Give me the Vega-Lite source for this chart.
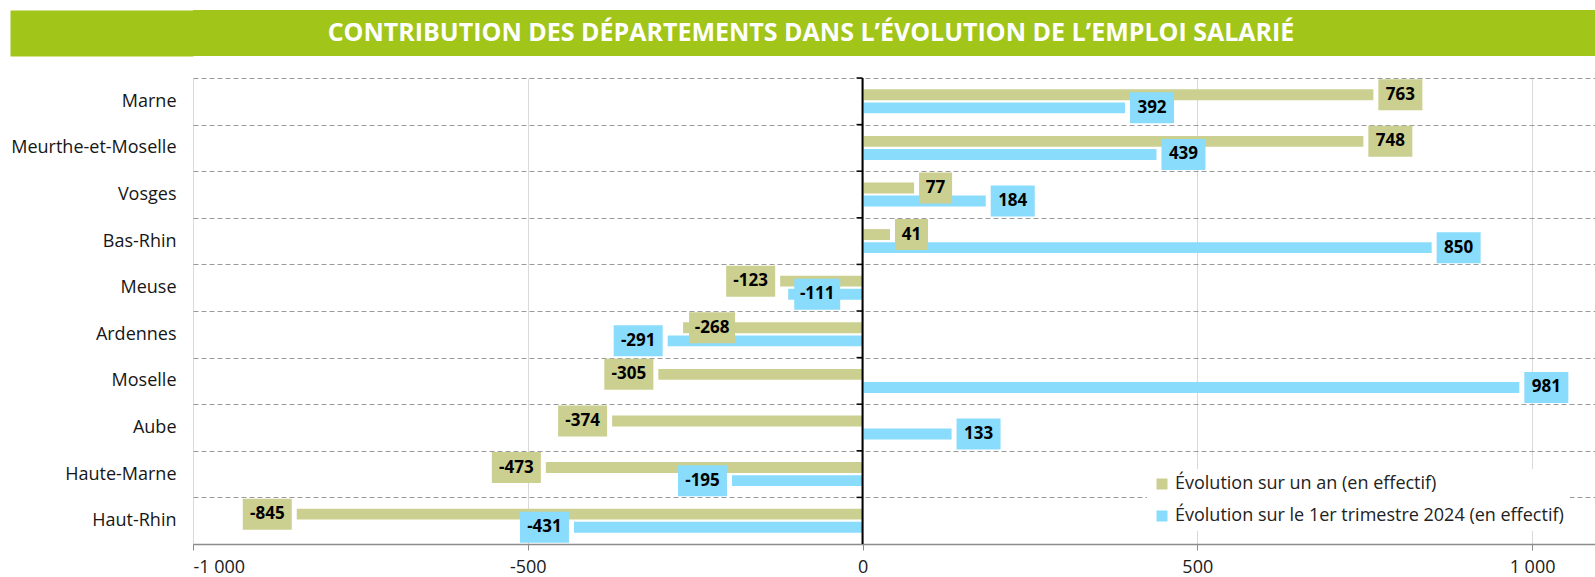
{
  "$schema": "https://vega.github.io/schema/vega-lite/v6.json",
  "padding": {"left": 10, "top": 10, "right": 0, "bottom": 0},
  "background": "white",
  "columns": 1,
  "align": "none",
  "spacing": 13,
  "config": {"view": {"stroke": null}, "font": "Open Sans"},
  "datasets": {
    "emploi": [
      {"dept": "Marne", "serie": "Évolution sur un an (en effectif)", "value": 763},
      {"dept": "Marne", "serie": "Évolution sur le 1er trimestre 2024 (en effectif)", "value": 392},
      {"dept": "Meurthe-et-Moselle", "serie": "Évolution sur un an (en effectif)", "value": 748},
      {"dept": "Meurthe-et-Moselle", "serie": "Évolution sur le 1er trimestre 2024 (en effectif)", "value": 439},
      {"dept": "Vosges", "serie": "Évolution sur un an (en effectif)", "value": 77},
      {"dept": "Vosges", "serie": "Évolution sur le 1er trimestre 2024 (en effectif)", "value": 184},
      {"dept": "Bas-Rhin", "serie": "Évolution sur un an (en effectif)", "value": 41},
      {"dept": "Bas-Rhin", "serie": "Évolution sur le 1er trimestre 2024 (en effectif)", "value": 850},
      {"dept": "Meuse", "serie": "Évolution sur un an (en effectif)", "value": -123},
      {"dept": "Meuse", "serie": "Évolution sur le 1er trimestre 2024 (en effectif)", "value": -111},
      {"dept": "Ardennes", "serie": "Évolution sur un an (en effectif)", "value": -268},
      {"dept": "Ardennes", "serie": "Évolution sur le 1er trimestre 2024 (en effectif)", "value": -291},
      {"dept": "Moselle", "serie": "Évolution sur un an (en effectif)", "value": -305},
      {"dept": "Moselle", "serie": "Évolution sur le 1er trimestre 2024 (en effectif)", "value": 981},
      {"dept": "Aube", "serie": "Évolution sur un an (en effectif)", "value": -374},
      {"dept": "Aube", "serie": "Évolution sur le 1er trimestre 2024 (en effectif)", "value": 133},
      {"dept": "Haute-Marne", "serie": "Évolution sur un an (en effectif)", "value": -473},
      {"dept": "Haute-Marne", "serie": "Évolution sur le 1er trimestre 2024 (en effectif)", "value": -195},
      {"dept": "Haut-Rhin", "serie": "Évolution sur un an (en effectif)", "value": -845},
      {"dept": "Haut-Rhin", "serie": "Évolution sur le 1er trimestre 2024 (en effectif)", "value": -431}
    ]
  },
  "concat": [
    {
      "width": 1402,
      "height": 46,
      "view": {"fill": "#a2c51a", "stroke": null},
      "data": {"values": [{"t": "CONTRIBUTION DES DÉPARTEMENTS DANS L’ÉVOLUTION DE L’EMPLOI SALARIÉ"}]},
      "mark": {"type": "text", "font": "Open Sans", "fontWeight": "bold", "fontSize": 25, "color": "white", "baseline": "middle", "align": "center", "dx": -83},
      "encoding": {
        "text": {"field": "t", "type": "nominal"},
        "y": {
          "field": "t", "type": "nominal",
          "axis": {"title": null, "labels": false, "ticks": false, "grid": false, "domain": true, "domainColor": "#a2c51a", "domainWidth": 183, "offset": 91.5}
        }
      }
    },
    {
      "width": 1402,
      "height": 466,
      "data": {"name": "emploi"},
      "layer": [
        {
          "mark": {"type": "bar"},
          "encoding": {
            "x": {
              "field": "value", "type": "quantitative",
              "scale": {"domain": [-1000, 1094], "nice": false, "zero": false},
              "axis": {
                "title": null, "values": [-1000, -500, 0, 500, 1000],
                "grid": true, "gridColor": "#d9d9d9", "gridWidth": 1,
                "domain": true, "domainColor": "#8c8c8c", "domainWidth": 1.5,
                "ticks": true, "tickColor": "#8c8c8c", "tickSize": 6, "tickWidth": 1,
                "labelPadding": 8, "labelFontSize": 18, "labelColor": "#1a1a1a", "labelFont": "Open Sans",
                "labelExpr": "(datum.value < 0 ? '-' : '') + replace(format(abs(datum.value), ','), ',', ' ')"
              }
            },
            "y": {
              "field": "dept", "type": "nominal",
              "sort": ["Marne", "Meurthe-et-Moselle", "Vosges", "Bas-Rhin", "Meuse", "Ardennes", "Moselle", "Aube", "Haute-Marne", "Haut-Rhin"],
              "scale": {"paddingInner": 0, "paddingOuter": 0},
              "axis": {
                "title": null, "ticks": false, "domain": false,
                "grid": true, "tickBand": "extent", "gridDash": [5, 3], "gridColor": "#9a9a9a", "gridWidth": 1,
                "labelPadding": 17, "labelFontSize": 18, "labelColor": "#161616", "labelFont": "Open Sans", "labelLimit": 0
              }
            },
            "yOffset": {
              "field": "serie", "type": "nominal",
              "sort": ["Évolution sur un an (en effectif)", "Évolution sur le 1er trimestre 2024 (en effectif)"],
              "scale": {"paddingInner": 0.17, "paddingOuter": 0.864}
            },
            "color": {
              "field": "serie", "type": "nominal",
              "sort": ["Évolution sur un an (en effectif)", "Évolution sur le 1er trimestre 2024 (en effectif)"],
              "scale": {"domain": ["Évolution sur un an (en effectif)", "Évolution sur le 1er trimestre 2024 (en effectif)"], "range": ["#cbcf8f", "#89dcfb"]},
              "legend": {
                "title": null, "orient": "none", "legendX": 954, "legendY": 459, "fillColor": "white", "padding": 6,
                "symbolType": "square", "symbolSize": 121, "symbolStrokeWidth": 0,
                "labelFontSize": 18, "labelFont": "Open Sans", "labelColor": "#222222", "rowPadding": 14, "labelLimit": 0
              }
            }
          }
        },
        {
          "data": {"values": [{}]},
          "mark": {"type": "rule", "color": "black", "strokeWidth": 2},
          "encoding": {"x": {"datum": 0}}
        },
        {
          "transform": [{"filter": "datum.serie === 'Évolution sur un an (en effectif)'"}],
          "mark": {"type": "rule", "color": "black", "strokeWidth": 1.5, "xOffset": -6},
          "encoding": {
            "x": {"datum": 0}, "x2": {"datum": 0},
            "y": {"field": "dept", "type": "nominal", "bandPosition": 0, "sort": ["Marne", "Meurthe-et-Moselle", "Vosges", "Bas-Rhin", "Meuse", "Ardennes", "Moselle", "Aube", "Haute-Marne", "Haut-Rhin"]}
          }
        },
        {
          "transform": [{"filter": "datum.value >= 100"}],
          "layer": [
            {
              "mark": {"type": "rect", "height": 31, "xOffset": 5, "x2Offset": 49},
              "encoding": {
                "x": {"field": "value", "type": "quantitative"}, "x2": {"field": "value"},
                "y": {"field": "dept", "type": "nominal", "sort": ["Marne", "Meurthe-et-Moselle", "Vosges", "Bas-Rhin", "Meuse", "Ardennes", "Moselle", "Aube", "Haute-Marne", "Haut-Rhin"]},
                "yOffset": {"field": "serie", "type": "nominal", "sort": ["Évolution sur un an (en effectif)", "Évolution sur le 1er trimestre 2024 (en effectif)"]},
                "color": {"field": "serie", "type": "nominal", "sort": ["Évolution sur un an (en effectif)", "Évolution sur le 1er trimestre 2024 (en effectif)"]}
              }
            },
            {
              "mark": {"type": "text", "xOffset": 27, "font": "Open Sans", "fontWeight": "bold", "fontSize": 17, "color": "black", "baseline": "middle"},
              "encoding": {
                "x": {"field": "value", "type": "quantitative"},
                "y": {"field": "dept", "type": "nominal", "sort": ["Marne", "Meurthe-et-Moselle", "Vosges", "Bas-Rhin", "Meuse", "Ardennes", "Moselle", "Aube", "Haute-Marne", "Haut-Rhin"]},
                "yOffset": {"field": "serie", "type": "nominal", "sort": ["Évolution sur un an (en effectif)", "Évolution sur le 1er trimestre 2024 (en effectif)"]},
                "text": {"field": "value", "type": "nominal"}
              }
            }
          ]
        },
        {
          "transform": [{"filter": "datum.value >= 0 && datum.value < 100"}],
          "layer": [
            {
              "mark": {"type": "rect", "height": 31, "xOffset": 5, "x2Offset": 38},
              "encoding": {
                "x": {"field": "value", "type": "quantitative"}, "x2": {"field": "value"},
                "y": {"field": "dept", "type": "nominal", "sort": ["Marne", "Meurthe-et-Moselle", "Vosges", "Bas-Rhin", "Meuse", "Ardennes", "Moselle", "Aube", "Haute-Marne", "Haut-Rhin"]},
                "yOffset": {"field": "serie", "type": "nominal", "sort": ["Évolution sur un an (en effectif)", "Évolution sur le 1er trimestre 2024 (en effectif)"]},
                "color": {"field": "serie", "type": "nominal", "sort": ["Évolution sur un an (en effectif)", "Évolution sur le 1er trimestre 2024 (en effectif)"]}
              }
            },
            {
              "mark": {"type": "text", "xOffset": 21.5, "font": "Open Sans", "fontWeight": "bold", "fontSize": 17, "color": "black", "baseline": "middle"},
              "encoding": {
                "x": {"field": "value", "type": "quantitative"},
                "y": {"field": "dept", "type": "nominal", "sort": ["Marne", "Meurthe-et-Moselle", "Vosges", "Bas-Rhin", "Meuse", "Ardennes", "Moselle", "Aube", "Haute-Marne", "Haut-Rhin"]},
                "yOffset": {"field": "serie", "type": "nominal", "sort": ["Évolution sur un an (en effectif)", "Évolution sur le 1er trimestre 2024 (en effectif)"]},
                "text": {"field": "value", "type": "nominal"}
              }
            }
          ]
        },
        {
          "transform": [{"filter": "datum.value < 0 && !((datum.dept === 'Meuse' && datum.serie === 'Évolution sur le 1er trimestre 2024 (en effectif)') || (datum.dept === 'Ardennes' && datum.serie === 'Évolution sur un an (en effectif)'))"}],
          "layer": [
            {
              "mark": {"type": "rect", "height": 31, "xOffset": -54, "x2Offset": -5},
              "encoding": {
                "x": {"field": "value", "type": "quantitative"}, "x2": {"field": "value"},
                "y": {"field": "dept", "type": "nominal", "sort": ["Marne", "Meurthe-et-Moselle", "Vosges", "Bas-Rhin", "Meuse", "Ardennes", "Moselle", "Aube", "Haute-Marne", "Haut-Rhin"]},
                "yOffset": {"field": "serie", "type": "nominal", "sort": ["Évolution sur un an (en effectif)", "Évolution sur le 1er trimestre 2024 (en effectif)"]},
                "color": {"field": "serie", "type": "nominal", "sort": ["Évolution sur un an (en effectif)", "Évolution sur le 1er trimestre 2024 (en effectif)"]}
              }
            },
            {
              "mark": {"type": "text", "xOffset": -29.5, "font": "Open Sans", "fontWeight": "bold", "fontSize": 17, "color": "black", "baseline": "middle"},
              "encoding": {
                "x": {"field": "value", "type": "quantitative"},
                "y": {"field": "dept", "type": "nominal", "sort": ["Marne", "Meurthe-et-Moselle", "Vosges", "Bas-Rhin", "Meuse", "Ardennes", "Moselle", "Aube", "Haute-Marne", "Haut-Rhin"]},
                "yOffset": {"field": "serie", "type": "nominal", "sort": ["Évolution sur un an (en effectif)", "Évolution sur le 1er trimestre 2024 (en effectif)"]},
                "text": {"field": "value", "type": "nominal"}
              }
            }
          ]
        },
        {
          "transform": [{"filter": "(datum.dept === 'Meuse' && datum.serie === 'Évolution sur le 1er trimestre 2024 (en effectif)') || (datum.dept === 'Ardennes' && datum.serie === 'Évolution sur un an (en effectif)')"}],
          "layer": [
            {
              "mark": {"type": "rect", "height": 31, "xOffset": 6, "x2Offset": 52},
              "encoding": {
                "x": {"field": "value", "type": "quantitative"}, "x2": {"field": "value"},
                "y": {"field": "dept", "type": "nominal", "sort": ["Marne", "Meurthe-et-Moselle", "Vosges", "Bas-Rhin", "Meuse", "Ardennes", "Moselle", "Aube", "Haute-Marne", "Haut-Rhin"]},
                "yOffset": {"field": "serie", "type": "nominal", "sort": ["Évolution sur un an (en effectif)", "Évolution sur le 1er trimestre 2024 (en effectif)"]},
                "color": {"field": "serie", "type": "nominal", "sort": ["Évolution sur un an (en effectif)", "Évolution sur le 1er trimestre 2024 (en effectif)"]}
              }
            },
            {
              "mark": {"type": "text", "xOffset": 29, "font": "Open Sans", "fontWeight": "bold", "fontSize": 17, "color": "black", "baseline": "middle"},
              "encoding": {
                "x": {"field": "value", "type": "quantitative"},
                "y": {"field": "dept", "type": "nominal", "sort": ["Marne", "Meurthe-et-Moselle", "Vosges", "Bas-Rhin", "Meuse", "Ardennes", "Moselle", "Aube", "Haute-Marne", "Haut-Rhin"]},
                "yOffset": {"field": "serie", "type": "nominal", "sort": ["Évolution sur un an (en effectif)", "Évolution sur le 1er trimestre 2024 (en effectif)"]},
                "text": {"field": "value", "type": "nominal"}
              }
            }
          ]
        }
      ]
    }
  ]
}
